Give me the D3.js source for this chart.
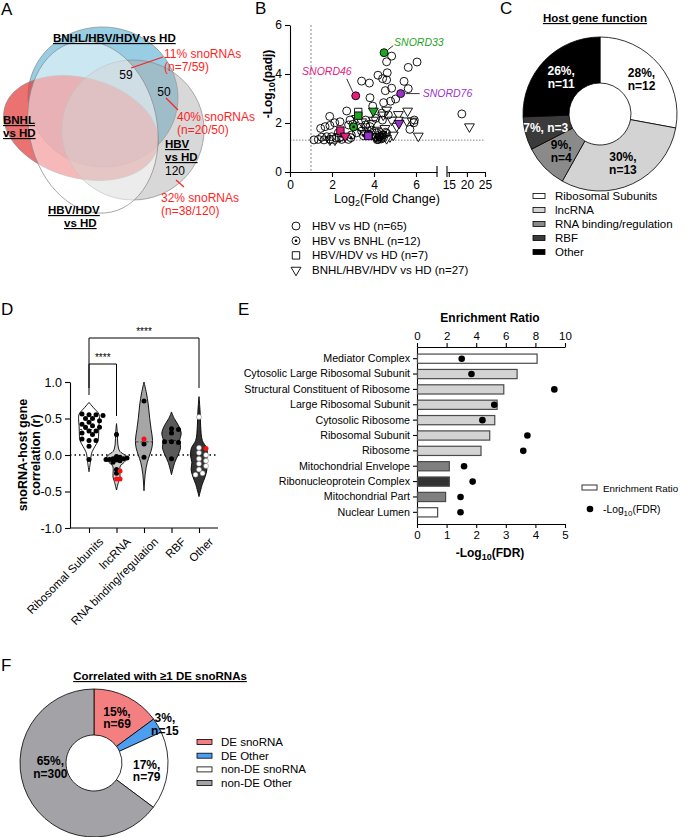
<!DOCTYPE html>
<html>
<head>
<meta charset="utf-8">
<script src="https://cdn.jsdelivr.net/npm/d3@7"></script>
<style>
  body { margin: 0; background: #fff; }
  svg { font-family: "Liberation Sans", Arial, sans-serif; }
</style>
</head>
<body>
<svg id="fig" width="685" height="837"></svg>
<script>
// ---------- A: venn ----------
const vennCounts = [59, 50, 120];
const vennPct = ['11% snoRNAs', '40% snoRNAs', '32% snoRNAs'];
const vennN = ['(n=7/59)', '(n=20/50)', '(n=38/120)'];

// ---------- B: volcano ([log2FC, -log10 padj]) ----------
const hbvHd = [[4.84,4.73],[4.6,4.5],[6.05,4.49],[5.63,4.27],[4.63,4.05],[4.19,3.95],[4.41,3.81],[4.6,3.76],
  [3.41,3.71],[3.78,3.63],[5.43,3.7],[4.54,3.32],[5.63,3.4],[3.81,3.03],[5.03,2.98],[4.79,2.89],[4.46,2.83],
  [3.94,2.69],[2.7,2.49],[1.89,2.27],[2.38,2.05],[1.9,1.9],[1.67,1.85],[1.46,1.78],[2.13,2.01],[2.86,2.12],
  [2.79,1.92],[3.6,2.12],[4.08,2.19],[4.4,2.12],[4.68,2.33],[4.37,2.4],[5.92,2.12],[5.9,2.01],[5.71,1.74],
  [18.6,2.37],[3.6,1.92],[3.81,1.85],[3.38,1.82],[1.14,1.31],[1.35,1.33],[1.51,1.42],[1.75,1.44],[1.98,1.44],
  [2.19,1.39],[2.78,1.33],[2.92,1.51],[3.17,1.6],[3.41,1.67],[4.13,1.6],[4.24,1.44],[4.44,1.51],[4.6,1.58],
  [4.21,1.33],[4.37,1.42],[2.46,1.33],[1.62,1.31],[1.9,1.33],[3.89,1.71],[4.84,3.42],[3.0,1.95],[2.3,1.6]];
const hbvBnhl = [[4.2,1.38],[4.28,1.45],[4.15,1.32],[4.35,1.35],[4.25,1.52],[4.1,1.42],[3.5,1.48],
  [2.9,1.4],[4.45,1.4],[4.55,1.62],[2.45,1.45]];
const hbvHdvHd = [[3.25,2.45],[2.06,1.33],[2.35,1.42],[3.75,1.5]];
const bnhlAll = [[5.6,2.49],[5.16,2.35],[5.16,2.12],[5.56,2.09],[5.82,2.08],[20.7,1.85],[6.11,1.47],
  [4.6,2.53],[4.44,2.33],[3.97,2.12],[4.76,1.44],[4.92,1.51],[4.6,1.37],[3.17,2.19],[3.41,2.05],[3.65,1.71],
  [2.38,1.44],[2.14,1.31],[1.9,1.31],[4.13,1.71],[4.37,1.65],[4.52,1.78],[3.57,1.58],[3.89,1.98],[4.84,2.12],
  [5.08,1.87],[4.06,1.44]];
const bLegend = ['HBV vs HD (n=65)', 'HBV vs BNHL (n=12)', 'HBV/HDV vs HD (n=7)', 'BNHL/HBV/HDV vs HD (n=27)'];
const snoNames = ['SNORD33', 'SNORD46', 'SNORD76'];
const snoColors = ['#1fa51f', '#e3207f', '#9a2fcf'];
// highlighted snoRNAs: [log2FC, -log10 padj, shape, snoRNA index]
const snoHits = [[4.48,4.87,'circle',0],[3.13,3.11,'circle',1],[5.27,3.2,'circle',2],
  [3.25,2.3,'square',0],[3.97,2.49,'tri',0],[3.03,1.84,'dot',0],
  [2.4,1.69,'square',1],[2.63,1.47,'tri',1],
  [3.73,1.47,'square',2],[5.19,1.99,'tri',2]];

// ---------- C: host gene function ----------
const hostCats = ['Ribosomal Subunits', 'lncRNA', 'RNA binding/regulation', 'RBF', 'Other'];
const hostCounts = [12, 13, 4, 3, 11];
const hostColors = ['#ffffff', '#d3d3d3', '#8a8a8a', '#3a3a3a', '#000000'];

// ---------- D: violins ----------
// profile: [r, relative half width]
const violinShapes = [
  [[0.72,0],[0.65,0.4],[0.56,0.9],[0.5,0.95],[0.4,0.9],[0.3,0.88],[0.2,0.82],[0.12,0.55],[0.05,0.3],[0,0.2],[-0.08,0.14],[-0.23,0]],
  [[0.43,0],[0.3,0.08],[0.15,0.12],[0.05,0.3],[0,0.75],[-0.05,0.95],[-0.1,0.7],[-0.15,0.35],[-0.22,0.3],[-0.3,0.32],[-0.36,0.2],[-0.48,0]],
  [[1.0,0],[0.85,0.22],[0.7,0.38],[0.5,0.52],[0.35,0.65],[0.2,0.78],[0.1,0.72],[0,0.52],[-0.1,0.3],[-0.25,0.12],[-0.49,0]],
  [[0.59,0],[0.5,0.25],[0.4,0.65],[0.3,0.88],[0.2,0.75],[0.1,0.82],[0,0.6],[-0.1,0.3],[-0.27,0]],
  [[0.8,0],[0.6,0.1],[0.4,0.15],[0.2,0.3],[0.1,0.68],[0,0.78],[-0.1,0.65],[-0.2,0.72],[-0.3,0.55],[-0.4,0.3],[-0.57,0]]
];
const violinMedians = [0.35, -0.06, 0.18, 0.2, 0.0];
const violinPoints = [
  [0.55,0.55,0.56,0.54,0.5,0.5,0.47,0.45,0.4,0.42,0.38,0.38,0.33,0.33,0.3,0.28,0.2,0.2,0.22,0.12,-0.06],
  [0.28,-0.02,-0.03,-0.05,-0.05,-0.06,-0.07,-0.08,-0.1,-0.04,-0.06,-0.2,-0.25],
  [0.74,0.15,-0.03],
  [0.36,0.35,0.3,0.18,0.17,0.18,-0.05],
  [0.52,0.1,0.03,0.0,-0.05,-0.08,-0.12,-0.15,-0.2,-0.25,-0.27]
];
const violinRed = [[], [-0.22,-0.33,-0.33], [0.22], [], [0.09]];
const violinFill = ['#ffffff', '#d0d0d0', '#a6a6a6', '#5a5a5a', '#333333'];
const violinDot = ['#000', '#000', '#000', '#000', '#fff'];

// ---------- E: GO enrichment ----------
const goTerms = ['Mediator Complex', 'Cytosolic Large Ribosomal Subunit', 'Structural Constituent of Ribosome',
  'Large Ribosomal Subunit', 'Cytosolic Ribosome', 'Ribosomal Subunit', 'Ribosome', 'Mitochondrial Envelope',
  'Ribonucleoprotein Complex', 'Mitochondrial Part', 'Nuclear Lumen'];
const enrichRatio = [8.08, 6.73, 5.83, 5.38, 5.22, 4.88, 4.29, 2.15, 2.15, 1.9, 1.36];
const fdrLog = [1.51, 1.84, 4.64, 2.61, 2.21, 3.73, 3.59, 1.59, 1.88, 1.47, 1.47];
const goFill = ['#ffffff', '#d3d3d3', '#d3d3d3', '#d3d3d3', '#d3d3d3', '#d3d3d3', '#d3d3d3',
  '#7f7f7f', '#333333', '#7f7f7f', '#ffffff'];

// ---------- F: correlated genes ----------
const corrCats = ['DE snoRNA', 'DE Other', 'non-DE snoRNA', 'non-DE Other'];
const corrCounts = [69, 15, 79, 300];
const corrColors = ['#f47f80', '#4d9ef0', '#ffffff', '#a2a2a7'];

const svg = d3.select('#fig');

function label(g, x, y, t, o = {}) {
  return g.append('text').attr('x', x).attr('y', y)
    .attr('font-size', o.size || 11.5)
    .attr('font-weight', o.bold ? 'bold' : null)
    .attr('font-style', o.italic ? 'italic' : null)
    .attr('text-anchor', o.anchor || 'start')
    .attr('text-decoration', o.under ? 'underline' : null)
    .attr('fill', o.fill || '#000')
    .text(t);
}

function styleAxis(a, size) {
  a.selectAll('text').attr('font-size', size || 11.5).attr('fill', '#000')
    .attr('font-family', '"Liberation Sans", Arial, sans-serif');
  a.selectAll('path,line').attr('stroke', '#000').attr('stroke-width', 1.1);
}

[['A', 1, 15], ['B', 255, 14], ['C', 500, 14], ['D', 1, 315], ['E', 238, 315], ['F', 1, 671]]
  .forEach(p => label(svg, p[1], p[2], p[0], { size: 17 }));

// ===== A =====
const gA = svg.append('g');
const ellipses = [
  { cx: 103, cy: 97, rx: 75, ry: 70, rot: 4, fill: '#5fb3d6', op: 0.65 },
  { cx: 81, cy: 128, rx: 79, ry: 50, rot: 15, fill: '#e53a3a', op: 0.72 },
  { cx: 133, cy: 130, rx: 71, ry: 70, rot: 0, fill: '#a8a8a8', op: 0.45 },
  { cx: 93, cy: 127, rx: 64, ry: 87, rot: -12, fill: '#ffffff', op: 0.5 }
];
ellipses.forEach(e => {
  gA.append('ellipse').attr('cx', e.cx).attr('cy', e.cy).attr('rx', e.rx).attr('ry', e.ry)
    .attr('transform', `rotate(${e.rot},${e.cx},${e.cy})`)
    .attr('fill', e.fill).attr('fill-opacity', e.op)
    .attr('stroke', '#8a8a8a').attr('stroke-width', 0.7);
});
label(gA, 53, 42, 'BNHL/HBV/HDV vs HD', { bold: true, under: true });
label(gA, 3, 124, 'BNHL', { bold: true, under: true });
label(gA, 3, 137, 'vs HD', { bold: true, under: true });
label(gA, 165, 148, 'HBV', { bold: true, under: true });
label(gA, 165, 161, 'vs HD', { bold: true, under: true });
label(gA, 48, 214, 'HBV/HDV', { bold: true, under: true });
label(gA, 64, 227, 'vs HD', { bold: true, under: true });

const countPos = [[126, 79], [164, 96], [175, 175]];
const pctPos = [[164, 58], [177, 121], [161, 202]];
const leaders = [[131, 68, 163, 57], [166, 98, 178, 110], [176, 180, 184, 187]];
vennCounts.forEach((c, i) => {
  label(gA, countPos[i][0], countPos[i][1], c, { size: 12, anchor: 'middle' });
  label(gA, pctPos[i][0], pctPos[i][1], vennPct[i], { size: 12, fill: '#ff1f1f' });
  label(gA, pctPos[i][0], pctPos[i][1] + 13, vennN[i], { size: 12, fill: '#ff1f1f' });
  const l = leaders[i];
  gA.append('line').attr('x1', l[0]).attr('y1', l[1]).attr('x2', l[2]).attr('y2', l[3])
    .attr('stroke', '#ff1f1f').attr('stroke-width', 1.2);
});

// ===== B =====
const gB = svg.append('g');
const xB1 = d3.scaleLinear().domain([0, 7]).range([290, 437]);
const xB2 = d3.scaleLinear().domain([14.5, 25]).range([447, 485]);
const xB = v => v >= 14 ? xB2(v) : xB1(v);
const yB = d3.scaleLinear().domain([0, 6]).range([172, 25]);
const fmtInt = d3.format('d');

gB.append('line').attr('x1', xB1(1)).attr('x2', xB1(1)).attr('y1', yB(6)).attr('y2', yB(0))
  .attr('stroke', '#888').attr('stroke-dasharray', '2,2');
gB.append('line').attr('x1', 290).attr('x2', 485).attr('y1', yB(1.3)).attr('y2', yB(1.3))
  .attr('stroke', '#888').attr('stroke-dasharray', '1.5,1.5');

const ax1 = gB.append('g').attr('transform', 'translate(0,172)')
  .call(d3.axisBottom(xB1).tickValues([0, 2, 4, 6]).tickFormat(fmtInt).tickSize(5).tickSizeOuter(0));
const ax2 = gB.append('g').attr('transform', 'translate(0,172)')
  .call(d3.axisBottom(xB2).tickValues([15, 20, 25]).tickFormat(fmtInt).tickSize(5).tickSizeOuter(0));
const ayB = gB.append('g').attr('transform', 'translate(290,0)')
  .call(d3.axisLeft(yB).tickValues([0, 2, 4, 6]).tickFormat(fmtInt).tickSize(5).tickSizeOuter(0));
[ax1, ax2, ayB].forEach(a => styleAxis(a, 12));
[437, 447].forEach(x => gB.append('line').attr('x1', x).attr('x2', x).attr('y1', 166).attr('y2', 177)
  .attr('stroke', '#000').attr('stroke-width', 1.1));

const xt = label(gB, 387, 203, 'Log', { size: 12.5, anchor: 'middle' });
xt.append('tspan').attr('font-size', 9).attr('dy', 3).text('2');
xt.append('tspan').attr('dy', -3).text('(Fold Change)');
const yt = gB.append('text').attr('transform', 'translate(272,84) rotate(-90)')
  .attr('text-anchor', 'middle').attr('font-size', 12).attr('font-weight', 'bold').text('-Log');
yt.append('tspan').attr('font-size', 9).attr('dy', 3).text('10');
yt.append('tspan').attr('dy', -3).text('(padj)');

const sym = {
  circle: d3.symbol(d3.symbolCircle, 50)(),
  dot: d3.symbol(d3.symbolCircle, 50)(),
  square: d3.symbol(d3.symbolSquare, 55)(),
  tri: d3.symbol(d3.symbolTriangle, 42)()
};
function marker(g, shape, x, y, fill) {
  g.append('path').attr('d', sym[shape])
    .attr('transform', `translate(${x},${y})${shape === 'tri' ? ' rotate(180)' : ''}`)
    .attr('fill', fill).attr('stroke', '#000').attr('stroke-width', 0.9);
  if (shape === 'dot') g.append('circle').attr('cx', x).attr('cy', y).attr('r', 1.3).attr('fill', '#000');
}
bnhlAll.forEach(d => marker(gB, 'tri', xB(d[0]), yB(d[1]), '#fff'));
hbvHdvHd.forEach(d => marker(gB, 'square', xB(d[0]), yB(d[1]), '#fff'));
hbvHd.forEach(d => marker(gB, 'circle', xB(d[0]), yB(d[1]), 'none'));
hbvBnhl.forEach(d => marker(gB, 'dot', xB(d[0]), yB(d[1]), 'none'));
snoHits.forEach(d => marker(gB, d[2], xB(d[0]), yB(d[1]), snoColors[d[3]]));

// snoRNA name callouts: leader start dx,dy, end dx,dy, label dx,dy
const callout = [[4, -3, 9, -7, 10, -7, 'start'], [-9, -17, -3, -4, -4, -21, 'end'], [5, 0, 19, 0, 22, 3, 'start']];
snoHits.slice(0, 3).forEach((d, i) => {
  const x = xB(d[0]), y = yB(d[1]), c = callout[i];
  gB.append('line').attr('x1', x + c[0]).attr('y1', y + c[1]).attr('x2', x + c[2]).attr('y2', y + c[3])
    .attr('stroke', '#000').attr('stroke-width', 0.8);
  label(gB, x + c[4], y + c[5], snoNames[i], { size: 10.5, italic: true, fill: snoColors[i], anchor: c[6] });
});

const legShapes = ['circle', 'dot', 'square', 'tri'];
bLegend.forEach((t, i) => {
  const y = 226 + i * 14.7;
  marker(gB, legShapes[i], 296, y, i < 2 ? 'none' : '#fff');
  label(gB, 312, y + 4, t, { size: 11.5 });
});

// ===== C =====
const gC = svg.append('g').attr('transform', 'translate(600,114)');
label(svg, 595, 22, 'Host gene function', { bold: true, under: true, anchor: 'middle' });
const pieC = d3.pie().sort(null)(hostCounts);
const arcC = d3.arc().innerRadius(31).outerRadius(77);
const totC = d3.sum(hostCounts);
gC.selectAll('path').data(pieC).enter().append('path')
  .attr('d', arcC).attr('fill', (d, i) => hostColors[i]).attr('stroke', '#000').attr('stroke-width', 0.8);
pieC.forEach((d, i) => {
  const [cx, cy] = arcC.centroid(d);
  const pct = Math.round(d.value / totC * 100) + '%,';
  const fill = i >= 3 ? '#fff' : '#000';
  if (i === 3) {
    label(gC, cx - 2, cy + 4, `${pct} n=${d.value}`, { size: 12, bold: true, anchor: 'middle', fill });
  } else {
    label(gC, cx, cy - 2, pct, { size: 12, bold: true, anchor: 'middle', fill });
    label(gC, cx, cy + 11, 'n=' + d.value, { size: 12, bold: true, anchor: 'middle', fill });
  }
});
hostCats.forEach((t, i) => {
  const y = 196 + i * 14;
  svg.append('rect').attr('x', 533).attr('y', y - 2.5).attr('width', 12).attr('height', 5)
    .attr('fill', hostColors[i]).attr('stroke', '#000').attr('stroke-width', 0.8);
  label(svg, 555, y + 4, t, { size: 11.5 });
});

// ===== D =====
const gD = svg.append('g');
const xD = d3.scalePoint().domain(hostCats).range([89, 199]);
const yD = d3.scaleLinear().domain([-1, 1]).range([528, 382]);
const vw = 11;

const ayD = gD.append('g').attr('transform', 'translate(70,0)')
  .call(d3.axisLeft(yD).tickValues([-1, -0.5, 0, 0.5, 1]).tickFormat(d => d.toFixed(1)).tickSize(5).tickSizeOuter(0));
const axD = gD.append('g').attr('transform', 'translate(0,528)')
  .call(d3.axisBottom(xD).tickSize(5).tickSizeOuter(0));
axD.select('.domain').attr('d', 'M70,0H218');
styleAxis(ayD, 12.5);
styleAxis(axD, 11.5);
axD.selectAll('text').attr('text-anchor', 'end').attr('transform', 'translate(4,4) rotate(-45)').attr('dy', '0.6em');

gD.append('line').attr('x1', 70).attr('x2', 218).attr('y1', yD(0)).attr('y2', yD(0))
  .attr('stroke', '#000').attr('stroke-width', 1.5).attr('stroke-dasharray', '1.5,3');

const yTitle = gD.append('text').attr('transform', 'translate(27,455) rotate(-90)')
  .attr('text-anchor', 'middle').attr('font-size', 12.5).attr('font-weight', 'bold');
yTitle.append('tspan').attr('x', 0).text('snoRNA-host gene');
yTitle.append('tspan').attr('x', 0).attr('dy', 13).text('correlation (r)');

const vArea = d3.area().y(d => yD(d[0])).x0(d => -d[1] * vw).x1(d => d[1] * vw).curve(d3.curveCatmullRom);

function widthAt(shape, r) {
  for (let i = 0; i < shape.length - 1; i++) {
    const a = shape[i], b = shape[i + 1];
    if (r <= a[0] && r >= b[0]) return a[1] + (b[1] - a[1]) * (a[0] - r) / (a[0] - b[0]);
  }
  return 0;
}
// simple beeswarm: push each dot sideways until it clears the ones already placed
function swarm(vals, r, gap) {
  const placed = [];
  return vals.map(v => {
    const y = yD(v);
    let k = 0, off = 0;
    for (;;) {
      off = k === 0 ? 0 : (k % 2 ? 1 : -1) * Math.ceil(k / 2) * r * 1.4;
      if (placed.every(p => (p[0] - off) ** 2 + (p[1] - y) ** 2 >= (r * gap) ** 2)) break;
      k++;
    }
    placed.push([off, y]);
    return [off, y];
  });
}

hostCats.forEach((c, i) => {
  const g = gD.append('g').attr('transform', `translate(${xD(c)},0)`);
  g.append('path').attr('d', vArea(violinShapes[i])).attr('fill', violinFill[i])
    .attr('stroke', '#000').attr('stroke-width', 0.9);
  const mw = widthAt(violinShapes[i], violinMedians[i]) * vw;
  g.append('line').attr('x1', -mw).attr('x2', mw).attr('y1', yD(violinMedians[i])).attr('y2', yD(violinMedians[i]))
    .attr('stroke', i >= 3 ? '#222' : '#444').attr('stroke-width', 1).attr('stroke-dasharray', '3,2');
  const all = violinPoints[i].map(v => [v, violinDot[i]]).concat(violinRed[i].map(v => [v, '#ff1010']));
  const pos = swarm(all.map(d => d[0]), 2.5, i === 1 ? 1.3 : 1.75);
  all.forEach((d, j) => {
    g.append('circle').attr('cx', pos[j][0]).attr('cy', pos[j][1]).attr('r', 2.5)
      .attr('fill', d[1]).attr('stroke', d[1] === '#fff' ? '#777' : 'none').attr('stroke-width', 0.5);
  });
});

// significance brackets
const brackets = [[0, 4, 338, 388, 388], [0, 1, 364, 395, 416]];
brackets.forEach(b => {
  const x1 = xD(hostCats[b[0]]), x2 = xD(hostCats[b[1]]);
  gD.append('path').attr('d', `M${x1},${b[3]}V${b[2]}H${x2}V${b[4]}`)
    .attr('fill', 'none').attr('stroke', '#000').attr('stroke-width', 1);
  label(gD, (x1 + x2) / 2, b[2] - 3, '****', { size: 10, anchor: 'middle' });
});

// ===== E =====
const gE = svg.append('g');
const xE = d3.scaleLinear().domain([0, 10]).range([417, 565]);
const xF = d3.scaleLinear().domain([0, 5]).range([417, 565]);
const yE = d3.scaleBand().domain(goTerms).range([347, 524]).paddingInner(0.4).paddingOuter(0.46);

const axTop = gE.append('g').attr('transform', 'translate(0,347)')
  .call(d3.axisTop(xE).tickValues([0, 2, 4, 6, 8, 10]).tickSize(4).tickSizeOuter(0));
const axBot = gE.append('g').attr('transform', 'translate(0,524)')
  .call(d3.axisBottom(xF).ticks(5).tickSize(4).tickSizeOuter(0));
const ayE = gE.append('g').attr('transform', 'translate(417,0)')
  .call(d3.axisLeft(yE).tickSize(4).tickSizeOuter(0));
styleAxis(axTop, 11.5);
styleAxis(axBot, 11.5);
styleAxis(ayE, 10.7);

gE.selectAll('rect.bar').data(goTerms).enter().append('rect').attr('class', 'bar')
  .attr('x', xE(0) + 0.5).attr('y', d => yE(d))
  .attr('width', (d, i) => xE(enrichRatio[i]) - xE(0))
  .attr('height', yE.bandwidth())
  .attr('fill', (d, i) => goFill[i]).attr('stroke', '#4a4a4a').attr('stroke-width', 1.2);
gE.selectAll('circle.fdr').data(goTerms).enter().append('circle').attr('class', 'fdr')
  .attr('cx', (d, i) => xF(fdrLog[i])).attr('cy', d => yE(d) + yE.bandwidth() / 2)
  .attr('r', 3.3).attr('fill', '#000');

label(gE, 490, 322, 'Enrichment Ratio', { size: 12, bold: true, anchor: 'middle' });
const fxt = label(gE, 490, 557, '-Log', { size: 12, bold: true, anchor: 'middle' });
fxt.append('tspan').attr('font-size', 9).attr('dy', 3).text('10');
fxt.append('tspan').attr('dy', -3).text('(FDR)');

gE.append('rect').attr('x', 582).attr('y', 485).attr('width', 15).attr('height', 5)
  .attr('fill', '#fff').attr('stroke', '#333').attr('stroke-width', 1);
label(gE, 603, 492, 'Enrichment Ratio', { size: 9.8 });
gE.append('circle').attr('cx', 590).attr('cy', 509).attr('r', 3.3).attr('fill', '#000');
const lg = label(gE, 603, 513, '-Log', { size: 10.3 });
lg.append('tspan').attr('font-size', 8).attr('dy', 3).text('10');
lg.append('tspan').attr('dy', -3).text('(FDR)');

// ===== F =====
const gF = svg.append('g').attr('transform', 'translate(94,763)');
label(svg, 160, 680, 'Correlated with \u22651 DE snoRNAs', { bold: true, under: true, anchor: 'middle' });
const pieF = d3.pie().sort(null)(corrCounts);
const arcF = d3.arc().innerRadius(28).outerRadius(74);
const totF = d3.sum(corrCounts);
gF.selectAll('path').data(pieF).enter().append('path')
  .attr('d', arcF).attr('fill', (d, i) => corrColors[i]).attr('stroke', '#000').attr('stroke-width', 0.8);
// label anchor: [radius, dx, dy]
const fLab = [[51, 0, -2], [80, 2, 0], [53, 0, 0], [50, 1, -20]];
pieF.forEach((d, i) => {
  const a = (d.startAngle + d.endAngle) / 2;
  const r = fLab[i][0];
  const cx = Math.sin(a) * r + fLab[i][1], cy = -Math.cos(a) * r + fLab[i][2];
  const pct = Math.round(d.value / totF * 100) + '%,';
  label(gF, cx, cy, pct, { size: 12, bold: true, anchor: 'middle' });
  label(gF, cx, cy + 12.5, 'n=' + d.value, { size: 12, bold: true, anchor: 'middle' });
});
corrCats.forEach((t, i) => {
  const y = 742 + i * 13.7;
  svg.append('rect').attr('x', 197).attr('y', y - 2.5).attr('width', 15).attr('height', 5)
    .attr('fill', corrColors[i]).attr('stroke', '#000').attr('stroke-width', 0.8);
  label(svg, 221, y + 4, t, { size: 11.5 });
});
</script>
</body>
</html>
